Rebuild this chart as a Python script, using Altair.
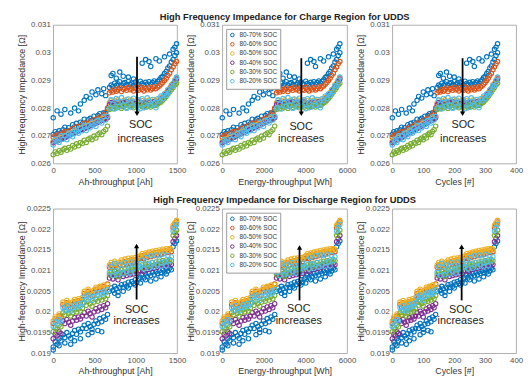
import altair as alt
import pandas as pd

# ---------------- data ----------------
series_names = ["80-70% SOC", "80-60% SOC", "80-50% SOC", "80-40% SOC", "80-30% SOC", "80-20% SOC"]
series_colors = ["#0072BD", "#D95319", "#EDB120", "#7E2F8E", "#77AC30", "#4DBEEE"]

# x positions of the measurements (shared by the three x quantities)
cycles = [0, 5, 10, 15, 20, 25, 30, 35, 40, 45, 50, 55, 60, 65, 70, 75, 80, 85, 90, 95,
          100, 105, 110, 115, 120, 125, 130, 135, 140,
          145, 150, 155, 160, 165, 170, 175, 180, 185, 190, 195, 200, 205, 210, 215, 220,
          225, 230, 235, 240, 245, 250, 255, 260, 265, 270, 275, 280, 285, 290, 295, 300,
          305, 310, 315, 320, 325, 330, 335, 340]
ah = [0, 24, 47, 71, 94, 118, 141, 165, 188, 212, 235, 259, 282, 306, 329, 353, 376, 400, 423, 447,
      470, 494, 517, 541, 564, 588, 611, 635, 658,
      681, 702, 723, 744, 764, 785, 806, 827, 848, 869, 889, 910, 931, 952, 973, 994,
      1014, 1035, 1056, 1077, 1098, 1119, 1139, 1160, 1181, 1202, 1223, 1244, 1264, 1285, 1306, 1327,
      1348, 1369, 1389, 1410, 1431, 1452, 1473, 1494]
wh = [0, 90, 180, 270, 360, 450, 540, 630, 720, 810, 900, 990, 1080, 1170, 1260, 1350, 1440, 1530, 1620, 1710,
      1800, 1890, 1980, 2070, 2160, 2250, 2340, 2430, 2520,
      2610, 2688, 2766, 2844, 2922, 3000, 3078, 3156, 3234, 3312, 3390, 3468, 3546, 3624, 3702, 3780,
      3858, 3936, 4014, 4092, 4170, 4248, 4326, 4404, 4482, 4560, 4638, 4716, 4794, 4872, 4950, 5028,
      5106, 5184, 5262, 5340, 5418, 5496, 5574, 5652]

# impedance values in units of 1e-5 Ohm
# ---- charge region ----
c_blue = [2705, 2715, 2708, 2718, 2711, 2722, 2731, 2719, 2729, 2720, 2740, 2733, 2745, 2734, 2749, 2744, 2760, 2745, 2758, 2763,
          2756, 2771, 2758, 2773, 2780, 2771, 2783, 2780, 2795,
          2874, 2883, 2878, 2890, 2882, 2887, 2895, 2881, 2889, 2892, 2884, 2896, 2886, 2890, 2882, 2894,
          2888, 2885, 2897, 2889, 2883, 2893, 2887, 2895, 2886, 2892, 2898, 2890, 2896, 2902, 2910, 2915,
          2925, 2932, 2945, 2952, 2966, 2975, 2990, 3000]
c_orange = [2695, 2702, 2698, 2706, 2701, 2711, 2716, 2709, 2717, 2710, 2726, 2720, 2732, 2722, 2736, 2731, 2746, 2734, 2745, 2751,
            2744, 2758, 2748, 2762, 2768, 2762, 2776, 2785, 2800,
            2855, 2862, 2858, 2868, 2861, 2866, 2873, 2860, 2868, 2871, 2864, 2875, 2866, 2869, 2862, 2874,
            2867, 2864, 2876, 2868, 2862, 2872, 2866, 2874, 2865, 2870, 2877, 2870, 2876, 2880, 2886, 2892,
            2900, 2908, 2918, 2926, 2938, 2948, 2960, 2968]
c_yellow = [2680, 2684, 2686, 2690, 2693, 2695, 2699, 2702, 2706, 2709, 2712, 2715, 2718, 2722, 2725, 2728, 2731, 2734, 2738, 2741,
            2744, 2747, 2750, 2754, 2757, 2760, 2763, 2766, 2770,
            2820, 2828, 2815, 2826, 2818, 2830, 2822, 2814, 2827, 2819, 2831, 2823, 2816, 2829, 2821,
            2825, 2817, 2830, 2820, 2827, 2815, 2826, 2822, 2829, 2818, 2824, 2831, 2820, 2828, 2832, 2838, 2842,
            2850, 2856, 2866, 2872, 2884, 2890, 2902, 2910]
c_purple = [2675, 2679, 2681, 2685, 2688, 2690, 2694, 2697, 2701, 2704, 2707, 2710, 2713, 2717, 2720, 2723, 2726, 2729, 2733, 2736,
            2739, 2742, 2745, 2749, 2752, 2755, 2758, 2761, 2765,
            2812, 2820, 2808, 2818, 2810, 2822, 2814, 2806, 2819, 2811, 2823, 2815, 2808, 2821, 2813,
            2817, 2809, 2822, 2812, 2819, 2807, 2818, 2814, 2821, 2810, 2816, 2823, 2812, 2820, 2825, 2832, 2836,
            2844, 2850, 2860, 2866, 2878, 2884, 2896, 2905]
c_green = [2632, 2642, 2636, 2646, 2641, 2650, 2655, 2648, 2658, 2652, 2665, 2660, 2671, 2664, 2676, 2672, 2684, 2676, 2688, 2692,
           2686, 2699, 2692, 2705, 2710, 2704, 2716, 2722, 2735,
           2795, 2802, 2798, 2806, 2800, 2805, 2811, 2799, 2806, 2809, 2803, 2813, 2805, 2808, 2801, 2812,
           2806, 2803, 2814, 2807, 2801, 2811, 2805, 2812, 2804, 2809, 2815, 2809, 2814, 2818, 2822, 2828,
           2835, 2842, 2850, 2858, 2866, 2874, 2883, 2890]
c_cyan = [2667, 2688, 2681, 2676, 2700, 2688, 2700, 2686, 2710, 2703, 2697, 2721, 2715, 2709, 2728, 2718, 2738, 2719, 2736, 2729,
          2749, 2740, 2734, 2756, 2752, 2746, 2769, 2757, 2770,
          2800, 2830, 2814, 2797, 2835, 2820, 2806, 2838, 2811, 2826, 2799, 2833, 2818, 2804, 2836,
          2822, 2808, 2829, 2798, 2834, 2815, 2803, 2837, 2824, 2809, 2831, 2816, 2801, 2834, 2826, 2844, 2835,
          2852, 2846, 2866, 2860, 2882, 2880, 2900, 2912]
# isolated 80-70% SOC points above the bands (grid index, value)
c_out_idx = [0, 2, 4, 6, 9, 11, 13, 14, 16, 17, 19, 20, 22, 23, 25, 26, 27,
             30, 31, 33, 35, 37, 40, 43, 48, 50, 52, 53, 56, 58, 61, 64, 66, 67, 68]
c_out_val = [2765, 2790, 2778, 2795, 2782, 2800, 2790, 2815, 2828, 2842, 2836, 2858, 2848, 2866, 2852, 2870, 2845,
             2918, 2925, 2908, 2930, 2915, 2912, 2905, 2962, 2975, 2968, 2950, 2978, 2970, 2985, 2995, 3012, 3020, 3032]

# ---- discharge region ----
d_blue = [1915, 1928, 1922, 1935, 1930,
          1945, 1938, 1950, 1942, 1936, 1948, 1955, 1946, 1958, 1952, 1960,
          1968, 1960, 1972, 1965, 1958, 1970, 1978, 1972, 1984, 1976, 1988, 1982, 1994,
          2050, 2058, 2052, 2062, 2056, 2048, 2060, 2066, 2059, 2068, 2062, 2072, 2066, 2074, 2069, 2078, 2072, 2080,
          2084, 2090, 2082, 2092, 2086, 2094, 2088, 2096, 2090, 2098, 2093, 2100, 2095, 2102, 2097, 2104, 2099, 2106, 2102,
          2158, 2166, 2172]
d_orange = [1972, 1983, 1979, 1990, 1986,
            2018, 2012, 2022, 2016, 2010, 2018, 2025, 2020, 2027, 2022, 2030,
            2045, 2040, 2050, 2044, 2038, 2048, 2055, 2050, 2058, 2053, 2061, 2058, 2068,
            2108, 2114, 2109, 2117, 2112, 2106, 2115, 2120, 2114, 2122, 2116, 2124, 2118, 2126, 2120, 2127, 2122, 2129,
            2130, 2136, 2129, 2138, 2132, 2140, 2134, 2142, 2136, 2144, 2138, 2145, 2140, 2147, 2142, 2149, 2144, 2151, 2146,
            2204, 2212, 2218]
d_yellow = [1978, 1988, 1985, 1995, 1991,
            2024, 2018, 2028, 2022, 2016, 2024, 2030, 2026, 2032, 2028, 2035,
            2050, 2045, 2055, 2049, 2043, 2053, 2060, 2055, 2062, 2058, 2065, 2060, 2066,
            2114, 2120, 2115, 2123, 2118, 2112, 2121, 2126, 2120, 2128, 2122, 2130, 2124, 2131, 2126, 2132, 2128, 2134,
            2136, 2141, 2135, 2143, 2138, 2145, 2140, 2147, 2142, 2149, 2144, 2150, 2146, 2152, 2147, 2153, 2149, 2154, 2151,
            2210, 2216, 2222]
d_purple = [1935, 1946, 1942, 1952, 1948,
            1978, 1972, 1982, 1975, 1968, 1978, 1986, 1980, 1988, 1983, 1990,
            1998, 1990, 2002, 1996, 1988, 2000, 2008, 2002, 2012, 2006, 2015, 2010, 2020,
            2082, 2088, 2080, 2090, 2085, 2078, 2089, 2093, 2086, 2094, 2088, 2096, 2090, 2097, 2092, 2099, 2094, 2100,
            2100, 2105, 2098, 2107, 2102, 2109, 2104, 2111, 2106, 2112, 2108, 2114, 2110, 2115, 2111, 2117, 2113, 2118, 2115,
            2170, 2178, 2185]
d_green = [1952, 1962, 1958, 1968, 1964,
           1998, 1993, 2002, 1996, 1990, 1998, 2005, 2000, 2007, 2002, 2009,
           2022, 2016, 2026, 2020, 2014, 2024, 2031, 2026, 2034, 2029, 2037, 2032, 2040,
           2090, 2096, 2088, 2099, 2093, 2086, 2097, 2102, 2095, 2104, 2098, 2106, 2100, 2107, 2102, 2109, 2104, 2110,
           2108, 2114, 2106, 2116, 2110, 2118, 2112, 2120, 2114, 2121, 2116, 2123, 2118, 2124, 2120, 2126, 2122, 2127, 2124,
           2185, 2192, 2198]
d_cyan = [1965, 1976, 1971, 1982, 1978,
          2010, 2004, 2015, 2008, 2002, 2010, 2018, 2012, 2020, 2014, 2022,
          2036, 2030, 2041, 2035, 2028, 2038, 2046, 2040, 2048, 2043, 2051, 2046, 2054,
          2096, 2110, 2088, 2118, 2100, 2090, 2114, 2104, 2092, 2120, 2098, 2112, 2094, 2121, 2106, 2096, 2118, 2108,
          2110, 2126, 2104, 2132, 2116, 2106, 2136, 2120, 2108, 2138, 2114, 2128, 2110, 2140, 2122, 2112, 2137, 2124, 2134,
          2196, 2205, 2212]
# isolated 80-70% SOC points below the bands (grid index, value)
d_out_idx = [0, 3, 6, 9, 11, 14, 18, 20, 23, 25, 26, 32, 34, 37, 40, 44, 47, 50, 53, 56, 59, 62]
d_out_val = [1908, 1918, 1925, 1922, 1930, 1935, 1945, 1950, 1955, 1952, 2048, 2045, 2040, 2050, 2058, 2065,
             2070, 2078, 2075, 2080, 2085, 2092]
VALUE_UNIT = 1e-5

# axes
x_fields = ["ah", "wh", "cyc"]
x_titles = ["Ah-throughput [Ah]", "Energy-throughput [Wh]", "Cycles [#]"]
x_domains = [[0, 1500], [0, 6000], [0, 400]]
x_ticks = [[0, 500, 1000, 1500], [0, 2000, 4000, 6000], [0, 100, 200, 300, 400]]
y_title = "High-frequency Impedance [\u03a9]"
charge_y_domain = [0.026, 0.031]
charge_y_ticks = [0.026, 0.027, 0.028, 0.029, 0.03, 0.031]
dis_y_domain = [0.019, 0.0225]
dis_y_ticks = [0.019, 0.0195, 0.02, 0.0205, 0.021, 0.0215, 0.022, 0.0225]
titles = ["High Frequency Impedance for Charge Region for UDDS",
          "High Frequency Impedance for Discharge Region for UDDS"]

# annotations (data units of each panel)
charge_arrow_x = [1015, 3800, 227]
charge_arrow_from = [0.02985, 0.02980, 0.02980]
charge_arrow_to = [0.02780, 0.02780, 0.02780]
charge_text_x = [1060, 3790, 229]
charge_soc_y = [0.02738, 0.02732, 0.02738]
charge_inc_y = [0.02688, 0.02688, 0.02688]

dis_arrow_x = [1010, 3714, 224]
dis_arrow_from = [0.02030, 0.02028, 0.02028]
dis_arrow_to = [0.02160, 0.02156, 0.02158]
dis_text_x = [1010, 3680, 221]
dis_soc_y = [0.02004, 0.02007, 0.02004]
dis_inc_y = [0.01978, 0.01978, 0.01978]


def make_df(vals6, out_idx, out_val):
    rows = []
    k = 0
    for i, v in zip(out_idx, out_val):
        rows.append({"series": series_names[0], "cyc": cycles[i], "ah": ah[i], "wh": wh[i],
                     "z": v * VALUE_UNIT, "o": k})
        k += 1
    for s, vals in zip(series_names, vals6):
        for i, v in enumerate(vals):
            rows.append({"series": s, "cyc": cycles[i], "ah": ah[i], "wh": wh[i],
                         "z": v * VALUE_UNIT, "o": k})
            k += 1
    return pd.DataFrame(rows)


charge_df = make_df([c_blue, c_orange, c_yellow, c_purple, c_green, c_cyan], c_out_idx, c_out_val)
dis_df = make_df([d_blue, d_orange, d_yellow, d_purple, d_green, d_cyan], d_out_idx, d_out_val)

FONT = "Liberation Sans"


def panel(df, j, ydom, yticks, ax_x, ay0, ay1, tx, sy, iy, up, width, height, show_legend, title):
    xf = x_fields[j]
    xenc = alt.X(f"{xf}:Q", scale=alt.Scale(domain=x_domains[j], nice=False, zero=False),
                 axis=alt.Axis(values=x_ticks[j], title=x_titles[j], format="d", labelFlush=False))
    yenc = alt.Y("z:Q", scale=alt.Scale(domain=ydom, nice=False, zero=False),
                 axis=alt.Axis(values=yticks, title=y_title, format="~g", minExtent=24, maxExtent=24))
    if show_legend:
        leg = alt.Legend(orient="top-left", title=None, offset=4, padding=3, rowPadding=0.4,
                         labelFontSize=6.5, labelColor="#333333", labelFont=FONT, symbolSize=13,
                         symbolStrokeWidth=1, symbolType="circle", strokeColor="#9a9a9a",
                         fillColor="white", labelLimit=80)
    else:
        leg = None
    pts = alt.Chart(df).mark_point(filled=False, size=20, strokeWidth=1.1, opacity=1).encode(
        x=xenc, y=yenc,
        color=alt.Color("series:N", scale=alt.Scale(domain=series_names, range=series_colors), legend=leg),
        order=alt.Order("o:Q"),
    )
    adf = pd.DataFrame({xf: [ax_x[j]], "z": [ay0[j]], "z2": [ay1[j]]})
    rule = alt.Chart(adf).mark_rule(color="black", strokeWidth=1.8).encode(
        x=xenc, y=yenc, y2="z2:Q")
    hdf = pd.DataFrame({xf: [ax_x[j]], "z": [ay1[j]]})
    head = alt.Chart(hdf).mark_point(shape="triangle-up" if up else "triangle-down", filled=True,
                                     color="black", size=28, opacity=1).encode(x=xenc, y=yenc)
    tdf = pd.DataFrame({xf: [tx[j], tx[j]], "z": [sy[j], iy[j]], "t": ["SOC", "increases"]})
    txt = alt.Chart(tdf).mark_text(fontSize=11, font=FONT, color="#222222").encode(
        x=xenc, y=yenc, text="t:N")
    ch = alt.layer(pts, rule, head, txt).properties(width=width, height=height)
    if title:
        ch = ch.properties(title=alt.Title(title, fontSize=9.5, fontWeight="bold", font=FONT,
                                           color="#222222", offset=0, anchor="middle"))
    return ch


widths = [126, 127, 126]
panels = []
for j in range(3):
    panels.append(panel(charge_df, j, charge_y_domain, charge_y_ticks,
                        charge_arrow_x, charge_arrow_from, charge_arrow_to,
                        charge_text_x, charge_soc_y, charge_inc_y, False,
                        widths[j], 141, j == 1, titles[0] if j == 1 else None))
for j in range(3):
    panels.append(panel(dis_df, j, dis_y_domain, dis_y_ticks,
                        dis_arrow_x, dis_arrow_from, dis_arrow_to,
                        dis_text_x, dis_soc_y, dis_inc_y, True,
                        widths[j], 147, j == 1, titles[1] if j == 1 else None))

chart = alt.concat(*panels, columns=3, spacing=46, bounds="flush").resolve_scale(
    color="independent"
).resolve_legend(
    color="independent"
).properties(
    padding={"left": 9, "top": 0, "right": 0, "bottom": 0}
).configure_view(
    stroke="#9a9a9a", strokeWidth=0.8
).configure_axis(
    domain=False, ticks=False, grid=False, labelFontSize=8, labelFont=FONT,
    labelColor="#4d4d4d", titleFontSize=9, titleFont=FONT, titleColor="#333333",
    titleFontWeight="normal", labelPadding=3, titlePadding=3
)

chart.save("out.html", embed_options={"renderer": "svg", "actions": False})
